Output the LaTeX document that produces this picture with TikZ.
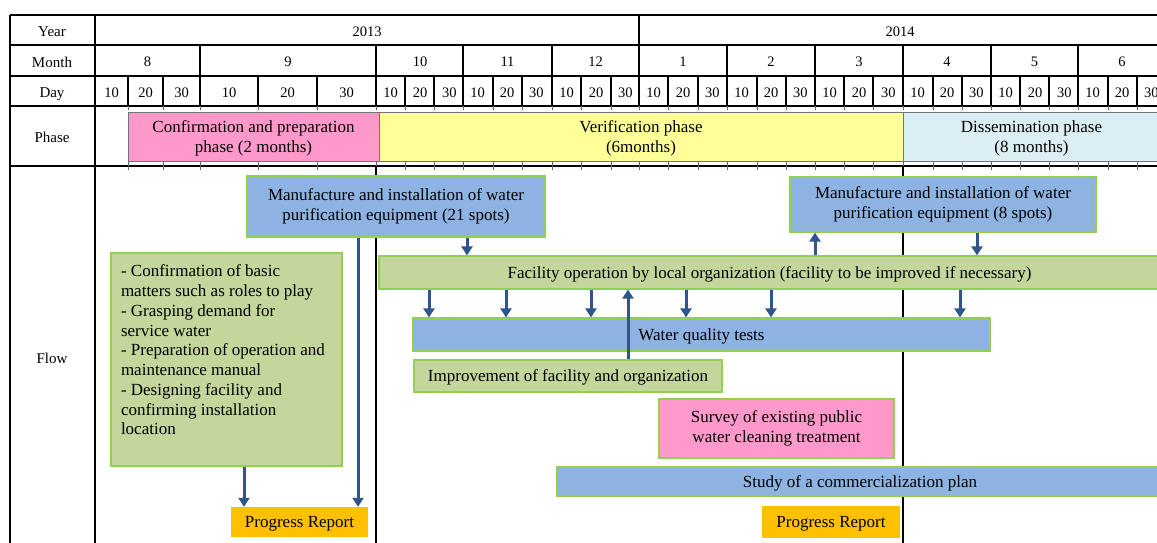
\documentclass[tikz,border=0pt]{standalone}
\usepackage{fontspec}
\setmainfont{Liberation Serif}
\usetikzlibrary{arrows.meta}

\definecolor{barblue}{RGB}{141,179,226}
\definecolor{bargreen}{RGB}{195,214,155}
\definecolor{edgegreen}{RGB}{146,208,80}
\definecolor{phasepink}{RGB}{255,153,204}
\definecolor{phaseyellow}{RGB}{255,255,153}
\definecolor{phasecyan}{RGB}{218,238,243}
\definecolor{reportorange}{RGB}{255,192,0}
\definecolor{arrowblue}{RGB}{47,85,140}

\begin{document}
\begin{tikzpicture}
  [x=1pt,y=-1pt,
   every node/.style={font=\fontsize{14.5}{17}\selectfont,inner sep=0pt},
   hdr/.style={text depth=0pt,yshift=-1.5pt},
   grid/.style={line width=1.6pt},
   monthline/.style={line width=2.3pt},
   phasebox/.style={draw=black!55,line width=0.6pt,align=center,text depth=0pt,font=\fontsize{17}{20}\selectfont},
   flowbox/.style={draw=edgegreen,line width=1.2pt,align=center,font=\fontsize{17}{20}\selectfont},
   oneline/.style={text depth=0pt},
   flowarrow/.style={draw=arrowblue,line width=3pt,-{Triangle[length=9pt,width=11pt]}}]
  \useasboundingbox (0,0) rectangle (1157,543);

  % table frame
  \foreach \y in {15,45,76,106,166}
    \draw[grid] (10,\y) -- (1157,\y);
  \draw[grid] (10,15) -- (10,543);
  \draw[grid] (95,15) -- (95,543);
  \draw[monthline] (639,15) -- (639,106);
  \foreach \x in {200,376,463,552,639,727,815,903,991,1078}
    \draw[monthline] (\x,45) -- (\x,106);
  \foreach \x in {128,163,258,317,405,434,493,522,581,611,668,698,757,786,844,873,933,962,1020,1049,1108,1137}
    \draw[grid] (\x,76) -- (\x,106);
  \foreach \x in {128,163,200,258,317,376,405,434,463,493,522,552,581,611,639,668,698,727,757,786,815,844,873,903,933,962,991,1020,1049,1078,1108,1137} {
    \draw[line width=0.6pt,black!60] (\x,106) -- (\x,110);
    \draw[line width=0.6pt,black!60] (\x,162) -- (\x,170);
  }
  \draw[monthline] (376,166) -- (376,543);
  \draw[monthline] (903,166) -- (903,543);

  % row labels
  \node[hdr,font=\fontsize{15}{17}\selectfont] (yearlbl) at (52,30) {Year};
  \node[hdr,font=\fontsize{15}{17}\selectfont] (monthlbl) at (52,60.5) {Month};
  \node[hdr,font=\fontsize{15}{17}\selectfont] (daylbl) at (52,91) {Day};
  \node[hdr,font=\fontsize{15}{17}\selectfont] (phaselbl) at (52,136) {Phase};
  \node[hdr,font=\fontsize{15}{17}\selectfont] (flowlbl) at (52,357) {Flow};

  \node[hdr] (y2013) at (367,30) {2013};
  \node[hdr] (y2014) at (900,30) {2014};

  \foreach \m/\x in {8/147.5,9/288,10/420,11/507.5,12/595.5,1/683,2/771,3/859,4/947,5/1034.5,6/1122}
    \node[hdr] (month\m) at (\x,60.5) {\m};

  \foreach \d/\x [count=\i] in {10/111.5,20/145.5,30/181.5,10/229,20/287.5,30/346.5}
    \node[hdr] (dayA\i) at (\x,91) {\d};
  \foreach \m [count=\i] in {376,463,552,639,727,815,903,991,1078} {
    \node[hdr] (dayB\i a) at (\m+14.6,91) {10};
    \node[hdr] (dayB\i b) at (\m+44,91) {20};
    \node[hdr] (dayB\i c) at (\m+73.4,91) {30};
  }

  % phases
  \node[phasebox,fill=phasepink,minimum width=251,minimum height=49] (prepphase) at (253.5,136.5)
    {Confirmation and preparation\\phase (2 months)};
  \node[phasebox,fill=phaseyellow,minimum width=524,minimum height=49] (verphase) at (641,136.5)
    {Verification phase\\(6months)};
  \node[phasebox,fill=phasecyan,minimum width=257,minimum height=49] (disphase) at (1031.5,136.5)
    {Dissemination phase\\(8 months)};

  % flow
  \node[flowbox,fill=barblue,minimum width=298,minimum height=61] (mfgA) at (396,206.5)
    {Manufacture and installation of water\\purification equipment (21 spots)};
  \node[flowbox,fill=barblue,minimum width=306,minimum height=55] (mfgB) at (943,204.5)
    {Manufacture and installation of water\\purification equipment (8 spots)};
  \node[flowbox,fill=bargreen,minimum width=231,minimum height=213] (prepwork) at (226.5,359.5)
    {\parbox[c][189pt][t]{211pt}{\fontsize{17}{19.75}\selectfont\raggedright
      - Confirmation of basic\\
      matters such as roles to play\\
      - Grasping demand for\\
      service water\\
      - Preparation of operation and\\
      maintenance manual\\
      - Designing facility and\\
      confirming installation\\
      location}};
  \node[flowbox,oneline,fill=bargreen,minimum width=781,minimum height=33] (operation) at (769.5,272.5)
    {Facility operation by local organization (facility to be improved if necessary)};
  \node[flowbox,oneline,fill=barblue,minimum width=577,minimum height=33] (wqtest) at (701.5,334.5)
    {Water quality tests};
  \node[flowbox,oneline,fill=bargreen,minimum width=308,minimum height=32] (improve) at (568,376)
    {Improvement of facility and organization};
  \node[flowbox,fill=phasepink,minimum width=235,minimum height=59] (survey) at (776.5,428.5)
    {Survey of existing public\\water cleaning treatment};
  \node[flowbox,oneline,fill=barblue,minimum width=606,minimum height=29] (business) at (860,481.5)
    {Study of a commercialization plan};
  \node[oneline,fill=reportorange,minimum width=137,minimum height=30,font=\fontsize{17}{20}\selectfont] (reportA) at (299.5,522)
    {Progress Report};
  \node[oneline,fill=reportorange,minimum width=138,minimum height=32,font=\fontsize{17}{20}\selectfont] (reportB) at (831,522)
    {Progress Report};

  % arrows
  \draw[flowarrow] (244,0 |- prepwork.south) -- (244,0 |- reportA.north);
  \draw[flowarrow] (358,0 |- mfgA.south) -- (358,0 |- reportA.north);
  \draw[flowarrow] (467,0 |- mfgA.south) -- (467,0 |- operation.north);
  \foreach \x in {429,506,591,686,771,960}
    \draw[flowarrow] (\x,0 |- operation.south) -- (\x,0 |- wqtest.north);
  \draw[flowarrow] (628,0 |- improve.north) -- (628,0 |- operation.south);
  \draw[flowarrow] (815,0 |- operation.north) -- (815,0 |- mfgB.south);
  \draw[flowarrow] (977,0 |- mfgB.south) -- (977,0 |- operation.north);

\end{tikzpicture}
\end{document}
